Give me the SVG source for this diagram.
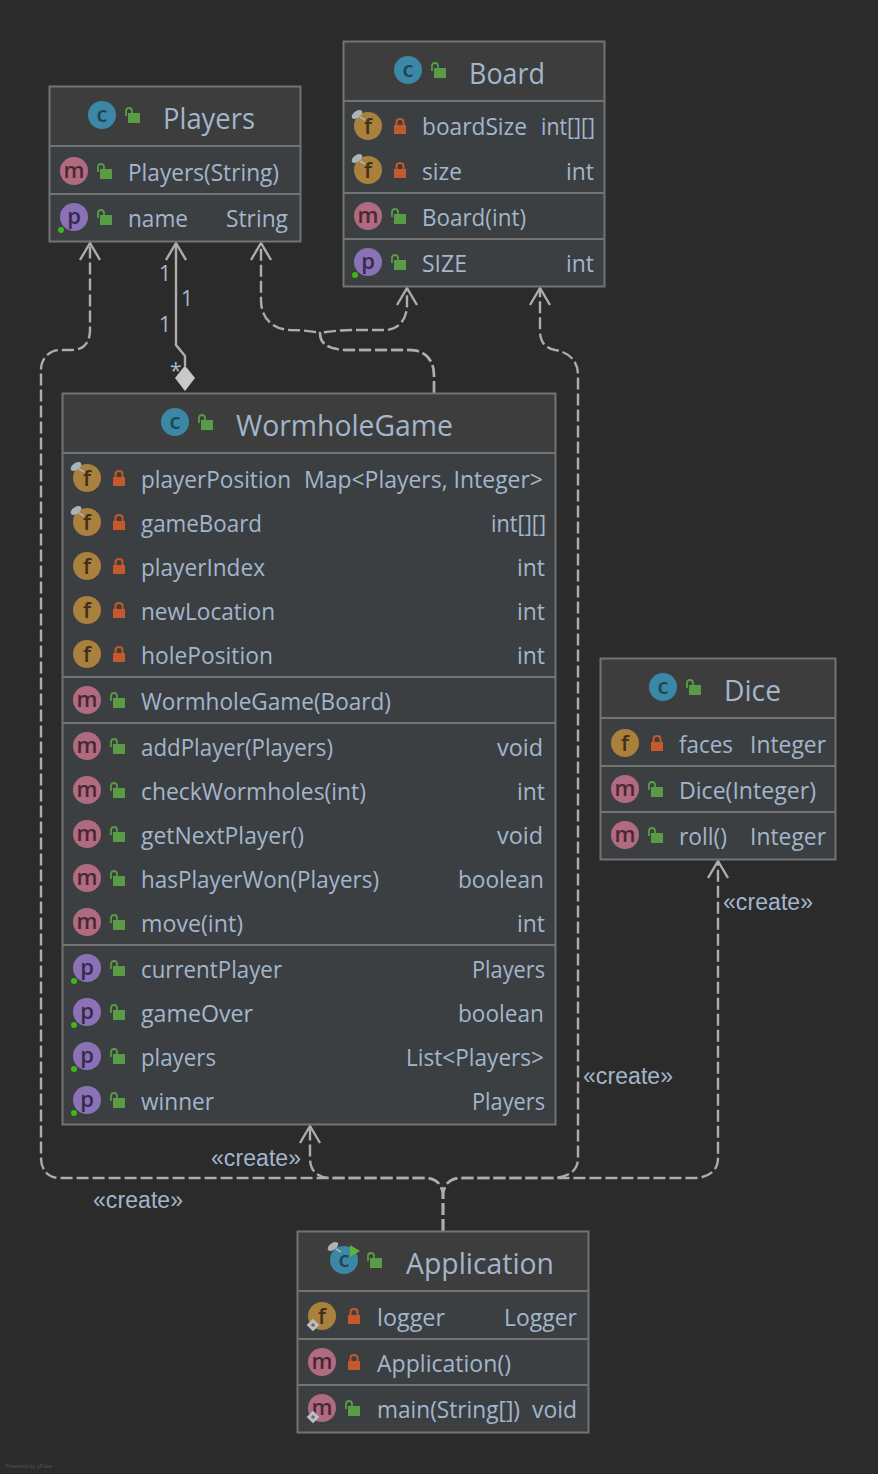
<svg xmlns="http://www.w3.org/2000/svg" xmlns:xlink="http://www.w3.org/1999/xlink" width="878" height="1474" viewBox="0 0 878 1474">
<style>
.bg{fill:#2b2b2b}
.box{fill:#3c3f41;stroke:#737373;stroke-width:2}
.head{fill:#3d3d3d}
.sep{stroke:#737373;stroke-width:2;fill:none}
text{font-family:"Open Sans","Noto Sans",sans-serif;fill:#a2b6cc}
.t{font-size:29px}
.m{font-size:23px}
.e{font-size:23px;font-family:"Liberation Sans",Arial,sans-serif;fill:#a2b6cc}
.n{font-size:21px;font-family:"Open Sans",sans-serif;fill:#a9b9cb}
.ic{font-size:22px;text-anchor:middle;font-weight:600}
text.lc{fill:#1d4553}text.lf{fill:#41301a}text.lm{fill:#4a2833}text.lp{fill:#352b4c}
.conn{fill:none;stroke:#adadad;stroke-width:2.4}
.dash{stroke-dasharray:12 4}
.cc{fill:#3b87a6}.cf{fill:#a9803c}.cm{fill:#b16b80}.cp{fill:#8b72b6}
.pin{fill:#3fb618}
</style>
<defs>
<marker id="open" markerUnits="userSpaceOnUse" markerWidth="24" markerHeight="26" refX="20" refY="12" orient="auto" viewBox="0 0 24 24">
<path d="M3,2 L20,12 L3,22" fill="none" stroke="#adadad" stroke-width="2.4"/>
</marker>
<g id="lo"><rect x="4" y="6" width="12" height="10" fill="#5a9c45"/><path d="M2,9 V4 Q2,1 5,1 Q8,1 8,4 V6" fill="none" stroke="#5a9c45" stroke-width="1.8"/></g>
<g id="lc"><rect x="0" y="7" width="12" height="9" fill="#c4592c"/><path d="M2.500,7 V4 Q2.500,1 6,1 Q9.500,1 9.500,4 V7" fill="none" stroke="#c4592c" stroke-width="2"/></g>
<g id="fin"><ellipse cx="-11" cy="-11.500" rx="6" ry="3.500" transform="rotate(-35 -11 -11.500)" fill="#aab4bc"/><path d="M-8,-9 L-3,-6" stroke="#aab4bc" stroke-width="1.500"/></g>
<g id="stat"><rect x="-4.500" y="-4.500" width="9" height="9" transform="rotate(45)" fill="#b9c0c6"/><circle r="1.800" fill="#7a6a50"/></g>
</defs>
<rect class="bg" width="878" height="1474"/>
<text x="5" y="1468" style="font-size:6px;fill:#555;font-family:'Liberation Sans',sans-serif" textLength="47" lengthAdjust="spacingAndGlyphs">Powered by yFiles</text>

<g id="connectors">
<path class="conn dash" marker-end="url(#open)" d="M443,1231 V1196 C443,1185 436,1178 425,1178 H60 C48,1178 41,1170 41,1158 V370 C41,358 50,350 60,350 H72 C84,350 90,342 90,330 V243"/>
<path class="conn dash" marker-end="url(#open)" d="M443,1231 V1196 C443,1185 436,1178 425,1178 H330 C316,1177 310,1170 310,1158 V1126"/>
<path class="conn dash" marker-end="url(#open)" d="M443,1231 V1196 C443,1185 450,1178 461,1178 H556 C570,1176 578,1170 578,1158 V375 C578,360 568,352 555,350 C545,348 540,342 540,330 V288"/>
<path class="conn dash" marker-end="url(#open)" d="M443,1231 V1196 C443,1185 450,1178 461,1178 H696 C710,1177 718,1170 718,1158 V861"/>
<path class="conn dash" marker-end="url(#open)" d="M434,393 V375 C434,360 425,350 410,350 H345 C330,349 320,345 320,333 C312,331 300,330 290,330 C272,329 261,318 261,300 V243"/>
<path class="conn dash" marker-end="url(#open)" d="M434,393 V375 C434,360 425,350 410,350 H345 C330,349 320,345 320,333 C330,331 345,330 355,330 H385 C398,330 407,320 407,305 V288"/>
<path class="conn" marker-end="url(#open)" d="M185,366 V356 L176,345 V243"/>
<polygon points="185,365.500 195,378 185,391 175,378" fill="#c9c9c9"/>
<text class="n" x="159" y="281">1</text>
<text class="n" x="181" y="306">1</text>
<text class="n" x="159" y="332">1</text>
<text class="n" x="170" y="378">*</text>
<text class="e" x="723" y="910" textLength="90">«create»</text>
<text class="e" x="583" y="1084" textLength="90">«create»</text>
<text class="e" x="211" y="1166" textLength="90">«create»</text>
<text class="e" x="93" y="1208" textLength="90">«create»</text>
</g>

<g id="Players">
<rect class="box" x="49.500" y="86.500" width="251" height="155"/>
<rect class="head" x="51" y="88" width="248" height="57"/>
<path class="sep" d="M50,146 H300 M50,194 H300"/>
<circle class="cc" cx="102" cy="115" r="14"/><text class="ic lc" x="102" y="122">c</text>
<use xlink:href="#lo" href="#lo" x="124" y="107"/>
<text class="t" x="163" y="129" textLength="92" lengthAdjust="spacingAndGlyphs">Players</text>
<circle class="cm" cx="74" cy="171" r="14"/><text class="ic lm" x="74" y="178">m</text>
<use href="#lo" x="96" y="163"/>
<text class="m" x="128" y="181" textLength="151" lengthAdjust="spacingAndGlyphs">Players(String)</text>
<circle class="cp" cx="74" cy="217" r="14"/><text class="ic lp" x="74" y="224">p</text><circle class="pin" cx="61" cy="230" r="3"/>
<use href="#lo" x="96" y="209"/>
<text class="m" x="128" y="227" textLength="60" lengthAdjust="spacingAndGlyphs">name</text>
<text class="m" x="226" y="227" textLength="62" lengthAdjust="spacingAndGlyphs">String</text>
</g>

<g id="Board">
<rect class="box" x="343.500" y="41.500" width="261" height="245"/>
<rect class="head" x="345" y="43" width="258" height="57"/>
<path class="sep" d="M344,101 H604 M344,193 H604 M344,239 H604"/>
<circle class="cc" cx="408" cy="70" r="14"/><text class="ic lc" x="408" y="77">c</text>
<use href="#lo" x="430" y="62"/>
<text class="t" x="469" y="84" textLength="76" lengthAdjust="spacingAndGlyphs">Board</text>
<circle class="cf" cx="368" cy="126" r="14"/><text class="ic lf" x="368" y="134">f</text><use href="#fin" x="368" y="126"/>
<use href="#lc" x="394" y="118"/>
<text class="m" x="422" y="135" textLength="105" lengthAdjust="spacingAndGlyphs">boardSize</text>
<text class="m" x="541" y="135" textLength="54" lengthAdjust="spacingAndGlyphs">int[][]</text>
<circle class="cf" cx="368" cy="170" r="14"/><text class="ic lf" x="368" y="178">f</text><use href="#fin" x="368" y="170"/>
<use href="#lc" x="394" y="162"/>
<text class="m" x="422" y="180" textLength="40" lengthAdjust="spacingAndGlyphs">size</text>
<text class="m" x="566" y="180" textLength="28" lengthAdjust="spacingAndGlyphs">int</text>
<circle class="cm" cx="368" cy="216" r="14"/><text class="ic lm" x="368" y="223">m</text>
<use href="#lo" x="390" y="208"/>
<text class="m" x="422" y="226" textLength="104" lengthAdjust="spacingAndGlyphs">Board(int)</text>
<circle class="cp" cx="368" cy="262" r="14"/><text class="ic lp" x="368" y="269">p</text><circle class="pin" cx="355" cy="275" r="3"/>
<use href="#lo" x="390" y="254"/>
<text class="m" x="422" y="272" textLength="45" lengthAdjust="spacingAndGlyphs">SIZE</text>
<text class="m" x="566" y="272" textLength="28" lengthAdjust="spacingAndGlyphs">int</text>
</g>

<g id="WormholeGame">
<rect class="box" x="62.500" y="393.500" width="493" height="731"/>
<rect class="head" x="64" y="395" width="490" height="57"/>
<path class="sep" d="M63,453 H555 M63,677 H555 M63,723 H555 M63,945 H555"/>
<circle class="cc" cx="175" cy="422" r="14"/><text class="ic lc" x="175" y="429">c</text>
<use href="#lo" x="197" y="414"/>
<text class="t" x="236" y="436" textLength="217" lengthAdjust="spacingAndGlyphs">WormholeGame</text>

<circle class="cf" cx="87" cy="478" r="14"/><text class="ic lf" x="87" y="486">f</text><use href="#fin" x="87" y="478"/>
<use href="#lc" x="113" y="470"/>
<text class="m" x="141" y="488" textLength="150" lengthAdjust="spacingAndGlyphs">playerPosition</text>
<text class="m" x="304" y="488" textLength="239" lengthAdjust="spacingAndGlyphs">Map&lt;Players, Integer&gt;</text>

<circle class="cf" cx="87" cy="522" r="14"/><text class="ic lf" x="87" y="530">f</text><use href="#fin" x="87" y="522"/>
<use href="#lc" x="113" y="514"/>
<text class="m" x="141" y="532" textLength="121" lengthAdjust="spacingAndGlyphs">gameBoard</text>
<text class="m" x="491" y="532" textLength="55" lengthAdjust="spacingAndGlyphs">int[][]</text>

<circle class="cf" cx="87" cy="566" r="14"/><text class="ic lf" x="87" y="574">f</text>
<use href="#lc" x="113" y="558"/>
<text class="m" x="141" y="576" textLength="124" lengthAdjust="spacingAndGlyphs">playerIndex</text>
<text class="m" x="517" y="576" textLength="28" lengthAdjust="spacingAndGlyphs">int</text>

<circle class="cf" cx="87" cy="610" r="14"/><text class="ic lf" x="87" y="618">f</text>
<use href="#lc" x="113" y="602"/>
<text class="m" x="141" y="620" textLength="134" lengthAdjust="spacingAndGlyphs">newLocation</text>
<text class="m" x="517" y="620" textLength="28" lengthAdjust="spacingAndGlyphs">int</text>

<circle class="cf" cx="87" cy="654" r="14"/><text class="ic lf" x="87" y="662">f</text>
<use href="#lc" x="113" y="646"/>
<text class="m" x="141" y="664" textLength="132" lengthAdjust="spacingAndGlyphs">holePosition</text>
<text class="m" x="517" y="664" textLength="28" lengthAdjust="spacingAndGlyphs">int</text>

<circle class="cm" cx="87" cy="700" r="14"/><text class="ic lm" x="87" y="707">m</text>
<use href="#lo" x="109" y="692"/>
<text class="m" x="141" y="710" textLength="250" lengthAdjust="spacingAndGlyphs">WormholeGame(Board)</text>

<circle class="cm" cx="87" cy="746" r="14"/><text class="ic lm" x="87" y="753">m</text>
<use href="#lo" x="109" y="738"/>
<text class="m" x="141" y="756" textLength="192" lengthAdjust="spacingAndGlyphs">addPlayer(Players)</text>
<text class="m" x="497" y="756" textLength="46" lengthAdjust="spacingAndGlyphs">void</text>

<circle class="cm" cx="87" cy="790" r="14"/><text class="ic lm" x="87" y="797">m</text>
<use href="#lo" x="109" y="782"/>
<text class="m" x="141" y="800" textLength="225" lengthAdjust="spacingAndGlyphs">checkWormholes(int)</text>
<text class="m" x="517" y="800" textLength="28" lengthAdjust="spacingAndGlyphs">int</text>

<circle class="cm" cx="87" cy="834" r="14"/><text class="ic lm" x="87" y="841">m</text>
<use href="#lo" x="109" y="826"/>
<text class="m" x="141" y="844" textLength="163" lengthAdjust="spacingAndGlyphs">getNextPlayer()</text>
<text class="m" x="497" y="844" textLength="46" lengthAdjust="spacingAndGlyphs">void</text>

<circle class="cm" cx="87" cy="878" r="14"/><text class="ic lm" x="87" y="885">m</text>
<use href="#lo" x="109" y="870"/>
<text class="m" x="141" y="888" textLength="238" lengthAdjust="spacingAndGlyphs">hasPlayerWon(Players)</text>
<text class="m" x="458" y="888" textLength="86" lengthAdjust="spacingAndGlyphs">boolean</text>

<circle class="cm" cx="87" cy="922" r="14"/><text class="ic lm" x="87" y="929">m</text>
<use href="#lo" x="109" y="914"/>
<text class="m" x="141" y="932" textLength="102" lengthAdjust="spacingAndGlyphs">move(int)</text>
<text class="m" x="517" y="932" textLength="28" lengthAdjust="spacingAndGlyphs">int</text>

<circle class="cp" cx="87" cy="968" r="14"/><text class="ic lp" x="87" y="975">p</text><circle class="pin" cx="74" cy="981" r="3"/>
<use href="#lo" x="109" y="960"/>
<text class="m" x="141" y="978" textLength="141" lengthAdjust="spacingAndGlyphs">currentPlayer</text>
<text class="m" x="472" y="978" textLength="73" lengthAdjust="spacingAndGlyphs">Players</text>

<circle class="cp" cx="87" cy="1012" r="14"/><text class="ic lp" x="87" y="1019">p</text><circle class="pin" cx="74" cy="1025" r="3"/>
<use href="#lo" x="109" y="1004"/>
<text class="m" x="141" y="1022" textLength="112" lengthAdjust="spacingAndGlyphs">gameOver</text>
<text class="m" x="458" y="1022" textLength="86" lengthAdjust="spacingAndGlyphs">boolean</text>

<circle class="cp" cx="87" cy="1056" r="14"/><text class="ic lp" x="87" y="1063">p</text><circle class="pin" cx="74" cy="1069" r="3"/>
<use href="#lo" x="109" y="1048"/>
<text class="m" x="141" y="1066" textLength="75" lengthAdjust="spacingAndGlyphs">players</text>
<text class="m" x="406" y="1066" textLength="138" lengthAdjust="spacingAndGlyphs">List&lt;Players&gt;</text>

<circle class="cp" cx="87" cy="1100" r="14"/><text class="ic lp" x="87" y="1107">p</text><circle class="pin" cx="74" cy="1113" r="3"/>
<use href="#lo" x="109" y="1092"/>
<text class="m" x="141" y="1110" textLength="73" lengthAdjust="spacingAndGlyphs">winner</text>
<text class="m" x="472" y="1110" textLength="73" lengthAdjust="spacingAndGlyphs">Players</text>
</g>

<g id="Dice">
<rect class="box" x="600.500" y="658.500" width="235" height="201"/>
<rect class="head" x="602" y="660" width="232" height="57"/>
<path class="sep" d="M601,718 H835 M601,766 H835 M601,812 H835"/>
<circle class="cc" cx="663" cy="687" r="14"/><text class="ic lc" x="663" y="694">c</text>
<use href="#lo" x="685" y="679"/>
<text class="t" x="724" y="701" textLength="57" lengthAdjust="spacingAndGlyphs">Dice</text>
<circle class="cf" cx="625" cy="743" r="14"/><text class="ic lf" x="625" y="751">f</text>
<use href="#lc" x="651" y="735"/>
<text class="m" x="679" y="753" textLength="54" lengthAdjust="spacingAndGlyphs">faces</text>
<text class="m" x="750" y="753" textLength="76" lengthAdjust="spacingAndGlyphs">Integer</text>
<circle class="cm" cx="625" cy="789" r="14"/><text class="ic lm" x="625" y="796">m</text>
<use href="#lo" x="647" y="781"/>
<text class="m" x="679" y="799" textLength="137" lengthAdjust="spacingAndGlyphs">Dice(Integer)</text>
<circle class="cm" cx="625" cy="835" r="14"/><text class="ic lm" x="625" y="842">m</text>
<use href="#lo" x="647" y="827"/>
<text class="m" x="679" y="845" textLength="48" lengthAdjust="spacingAndGlyphs">roll()</text>
<text class="m" x="750" y="845" textLength="76" lengthAdjust="spacingAndGlyphs">Integer</text>
</g>

<g id="Application">
<rect class="box" x="297.500" y="1231.500" width="291" height="201"/>
<rect class="head" x="299" y="1233" width="288" height="57"/>
<path class="sep" d="M298,1291 H588 M298,1339 H588 M298,1385 H588"/>
<circle class="cc" cx="344" cy="1260" r="14"/><text class="ic lc" x="344" y="1267">c</text>
<use href="#fin" x="344" y="1258"/>
<polygon points="350,1245 360,1251 350,1257" fill="#5cb531"/>
<use href="#lo" x="366" y="1252"/>
<text class="t" x="406" y="1274" textLength="148" lengthAdjust="spacingAndGlyphs">Application</text>
<circle class="cf" cx="322" cy="1316" r="14"/><text class="ic lf" x="322" y="1324">f</text><use href="#stat" x="313" y="1325"/>
<use href="#lc" x="348" y="1308"/>
<text class="m" x="377" y="1326" textLength="68" lengthAdjust="spacingAndGlyphs">logger</text>
<text class="m" x="504" y="1326" textLength="73" lengthAdjust="spacingAndGlyphs">Logger</text>
<circle class="cm" cx="322" cy="1362" r="14"/><text class="ic lm" x="322" y="1369">m</text>
<use href="#lc" x="348" y="1354"/>
<text class="m" x="377" y="1372" textLength="134" lengthAdjust="spacingAndGlyphs">Application()</text>
<circle class="cm" cx="322" cy="1408" r="14"/><text class="ic lm" x="322" y="1415">m</text><use href="#stat" x="313" y="1417"/>
<use href="#lo" x="344" y="1400"/>
<text class="m" x="377" y="1418" textLength="143" lengthAdjust="spacingAndGlyphs">main(String[])</text>
<text class="m" x="532" y="1418" textLength="45" lengthAdjust="spacingAndGlyphs">void</text>
</g>
</svg>
